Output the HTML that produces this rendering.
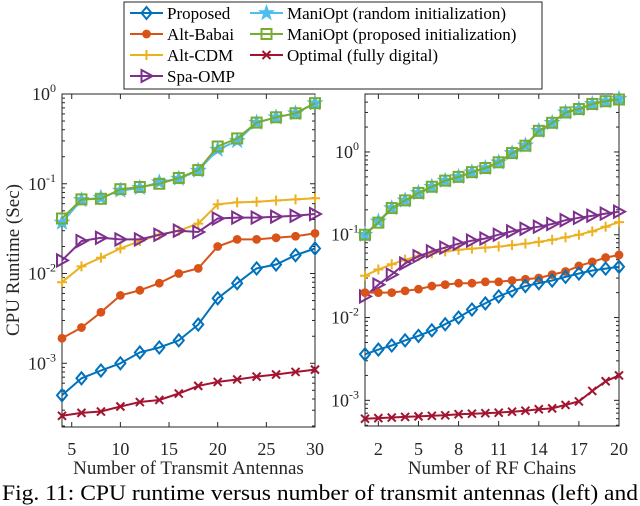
<!DOCTYPE html>
<html><head><meta charset="utf-8"><style>
html,body{margin:0;padding:0;background:#fff;}
svg, svg text{font-family:"Liberation Serif","DejaVu Serif",serif;}
svg{display:block;}
</style></head><body>
<svg id="chart" width="640" height="506" viewBox="0 0 640 506" xmlns="http://www.w3.org/2000/svg" font-family="Liberation Serif, DejaVu Serif, serif"></svg>
<script>
// ---- data ----
const leftX = [4,6,8,10,12,14,16,18,20,22,24,26,28,30];
const rightX = [1,2,3,4,5,6,7,8,9,10,11,12,13,14,15,16,17,18,19,20];
const leftProposed = [0.00044,0.00068,0.00083,0.001,0.00132,0.0015,0.0018,0.0027,0.0053,0.0078,0.0114,0.0126,0.016,0.019];
const leftBabai = [0.0019,0.0025,0.0037,0.0057,0.0065,0.0078,0.010,0.0114,0.020,0.024,0.024,0.025,0.026,0.028];
const leftCDM = [0.0080,0.012,0.015,0.019,0.023,0.027,0.030,0.036,0.059,0.062,0.063,0.065,0.067,0.069];
const leftOMP = [0.014,0.023,0.025,0.024,0.024,0.027,0.030,0.029,0.041,0.042,0.042,0.043,0.044,0.046];
const leftManiRand = [0.037,0.066,0.070,0.084,0.090,0.104,0.114,0.140,0.24,0.30,0.48,0.55,0.61,0.79];
const leftManiProp = [0.041,0.067,0.068,0.087,0.092,0.100,0.116,0.142,0.26,0.32,0.48,0.55,0.61,0.79];
const leftOptimal = [0.00026,0.00028,0.00029,0.00033,0.00037,0.00039,0.00046,0.00056,0.00062,0.00066,0.00071,0.00075,0.0008,0.00085];
const rightProposed = [0.0036,0.0041,0.0046,0.0053,0.006,0.007,0.0083,0.010,0.0125,0.0148,0.018,0.021,0.024,0.026,0.028,0.031,0.034,0.037,0.039,0.041];
const rightBabai = [0.020,0.020,0.020,0.021,0.022,0.024,0.025,0.026,0.026,0.027,0.027,0.028,0.029,0.030,0.033,0.036,0.042,0.047,0.053,0.057];
const rightCDM = [0.032,0.038,0.044,0.050,0.055,0.060,0.063,0.066,0.068,0.070,0.072,0.075,0.078,0.082,0.087,0.093,0.10,0.11,0.125,0.142];
const rightOMP = [0.018,0.025,0.033,0.045,0.055,0.063,0.070,0.078,0.085,0.090,0.10,0.11,0.118,0.125,0.135,0.15,0.16,0.17,0.18,0.19];
const rightManiRand = [0.10,0.145,0.21,0.26,0.32,0.38,0.45,0.50,0.57,0.64,0.75,0.97,1.2,1.8,2.25,3.0,3.3,3.8,4.1,4.4];
const rightManiProp = [0.10,0.14,0.21,0.26,0.32,0.38,0.45,0.50,0.57,0.64,0.75,0.97,1.19,1.8,2.25,3.0,3.3,3.8,4.1,4.3];
const rightOptimal = [0.0006,0.00061,0.00062,0.00063,0.00064,0.00065,0.00066,0.00068,0.00069,0.0007,0.00071,0.00073,0.00075,0.00078,0.0008,0.00088,0.00097,0.0013,0.0017,0.002];
const leftXTicks = [5,10,15,20,25,30];
const rightXTicks = [2,5,8,11,14,17,20];
const leftYTicks = [0,-1,-2,-3];
const rightYTicks = [0,-1,-2,-3];
const legendLabels = ["Proposed","Alt-Babai","Alt-CDM","Spa-OMP","ManiOpt (random initialization)","ManiOpt (proposed initialization)","Optimal (fully digital)"];

const NS="http://www.w3.org/2000/svg";
const FF="Liberation Serif, DejaVu Serif, serif";
const svg=document.getElementById('chart');
function mk(tag,attrs,parent){const e=document.createElementNS(NS,tag);for(const k in attrs)e.setAttribute(k,attrs[k]);if(tag==='text')e.setAttribute('font-family',FF);(parent||svg).appendChild(e);return e;}

const styles={
 proposed:{c:'#0072BD',m:'diamond'},
 babai:{c:'#D95319',m:'dot'},
 cdm:{c:'#EDB120',m:'plus'},
 omp:{c:'#7E2F8E',m:'tri'},
 rand:{c:'#4DBEEE',m:'star'},
 prop:{c:'#77AC30',m:'square'},
 opt:{c:'#A2142F',m:'x'}
};
function marker(g,type,x,y,c){
 let e;
 if(type==='diamond')e=mk('path',{d:`M${x},${y-6}L${x+5},${y}L${x},${y+6}L${x-5},${y}Z`,fill:'none',stroke:c,'stroke-width':2},g);
 else if(type==='dot')e=mk('circle',{cx:x,cy:y,r:3.8,fill:c,stroke:c,'stroke-width':1.2},g);
 else if(type==='plus')e=mk('path',{d:`M${x-5},${y}H${x+5}M${x},${y-5}V${y+5}`,stroke:c,'stroke-width':2,fill:'none'},g);
 else if(type==='tri')e=mk('path',{d:`M${x-5},${y-6}L${x+6},${y}L${x-5},${y+6}Z`,fill:'none',stroke:c,'stroke-width':2},g);
 else if(type==='square')e=mk('rect',{x:x-5,y:y-5,width:10,height:10,fill:'none',stroke:c,'stroke-width':2},g);
 else if(type==='x')e=mk('path',{d:`M${x-4},${y-4}L${x+4},${y+4}M${x-4},${y+4}L${x+4},${y-4}`,stroke:c,'stroke-width':2,fill:'none'},g);
 else if(type==='star'){let p='';for(let i=0;i<10;i++){const r=i%2?3:7.5;const a=-Math.PI/2+i*Math.PI/5;p+=(i?'L':'M')+(x+r*Math.cos(a)).toFixed(1)+','+(y+r*Math.sin(a)).toFixed(1);}e=mk('path',{d:p+'Z',fill:c,stroke:c,'stroke-width':1},g);}
 
 
}

function panel(cfg){
 const {L,R,T,B,xmin,xmax,ymin,ymax,name}=cfg;
 const sx=v=>L+(v-xmin)/(xmax-xmin)*(R-L);
 const sy=v=>B-(Math.log10(v)-ymin)/(ymax-ymin)*(B-T);
 const g=mk('g',{});
 
 
 const ax=mk('rect',{x:L,y:T,width:R-L,height:B-T,fill:'#fff',stroke:'#262626','stroke-width':1},g);
 
 
 cfg.xTicks.forEach(t=>{const x=sx(t);
  mk('line',{x1:x,x2:x,y1:B,y2:B-5,stroke:'#262626'},g);
  mk('line',{x1:x,x2:x,y1:T,y2:T+5,stroke:'#262626'},g);
  const tx=mk('text',{x:x,y:455,'font-size':18,'text-anchor':'middle',fill:'#262626'},g);tx.textContent=t;
  
  
 });
 for(let d=Math.floor(ymin);d<Math.ceil(ymax);d++){for(let k=1;k<10;k++){const lv=d+Math.log10(k);if(lv<ymin||lv>ymax)continue;const y=B-(lv-ymin)/(ymax-ymin)*(B-T);const len=k===1?5:3;
  mk('line',{x1:L,x2:L+len,y1:y,y2:y,stroke:'#262626'},g);mk('line',{x1:R,x2:R-len,y1:y,y2:y,stroke:'#262626'},g);}}
 cfg.yTicks.forEach(p=>{const y=B-(p-ymin)/(ymax-ymin)*(B-T);
  const tx=mk('text',{x:L-6,y:y+6,'font-size':18,'text-anchor':'end',fill:'#262626'},g);
  
  
  tx.textContent='10';const s=mk('tspan',{dy:-8,'font-size':12},tx);s.textContent=String(p);
 });
 cfg.series.forEach(s=>{
  const st=styles[s.k];
  const sg=mk('g',{},g);
  
  
  const pts=s.v.map((v,i)=>sx(s.x[i]).toFixed(1)+','+sy(v).toFixed(1)).join(' ');
  mk('polyline',{points:pts,fill:'none',stroke:st.c,'stroke-width':2},sg);
  s.v.forEach((v,i)=>marker(sg,st.m,sx(s.x[i]),sy(v),st.c));
 });
 const xt=mk('text',{x:(L+R)/2,y:474,'font-size':19,'text-anchor':'middle',fill:'#262626'},g);
 xt.textContent=cfg.xTitle;
 
 
}

panel({name:'left-panel',L:62,R:315,T:94,B:427,xmin:4,xmax:30,ymin:-3.71,ymax:0,xTicks:leftXTicks,yTicks:leftYTicks,xTitle:'Number of Transmit Antennas',
 series:[{k:'rand',name:'series-maniopt-random',x:leftX,v:leftManiRand},{k:'prop',name:'series-maniopt-proposed',x:leftX,v:leftManiProp},{k:'cdm',name:'series-alt-cdm',x:leftX,v:leftCDM},{k:'omp',name:'series-spa-omp',x:leftX,v:leftOMP},{k:'babai',name:'series-alt-babai',x:leftX,v:leftBabai},{k:'proposed',name:'series-proposed',x:leftX,v:leftProposed},{k:'opt',name:'series-optimal',x:leftX,v:leftOptimal}]});
panel({name:'right-panel',L:365,R:619,T:94,B:426,xmin:1,xmax:20,ymin:-3.31,ymax:0.70,xTicks:rightXTicks,yTicks:rightYTicks,xTitle:'Number of RF Chains',
 series:[{k:'rand',name:'series-maniopt-random',x:rightX,v:rightManiRand},{k:'prop',name:'series-maniopt-proposed',x:rightX,v:rightManiProp},{k:'cdm',name:'series-alt-cdm',x:rightX,v:rightCDM},{k:'omp',name:'series-spa-omp',x:rightX,v:rightOMP},{k:'babai',name:'series-alt-babai',x:rightX,v:rightBabai},{k:'proposed',name:'series-proposed',x:rightX,v:rightProposed},{k:'opt',name:'series-optimal',x:rightX,v:rightOptimal}]});

const yt=mk('text',{x:0,y:0,'font-size':19,'text-anchor':'middle',fill:'#262626',transform:'translate(19,260) rotate(-90)'});
yt.textContent='CPU Runtime (Sec)';



const lg=mk('g',{});


mk('rect',{x:124,y:2,width:418,height:87,fill:'#fff',stroke:'#262626','stroke-width':1},lg);
const legKeys=['proposed','babai','cdm','omp','rand','prop','opt'];
const legPos=[[130,13],[130,34],[130,55],[130,76],[250,13],[250,34],[250,55]];
legendLabels.forEach((lab,i)=>{
 const [x,y]=legPos[i];const st=styles[legKeys[i]];
 const eg=mk('g',{},lg);
 
 
 mk('line',{x1:x,x2:x+33,y1:y,y2:y,stroke:st.c,'stroke-width':2},eg);
 marker(eg,st.m,x+16.5,y,st.c);
 const t=mk('text',{x:x+37,y:y+6,'font-size':17,fill:'#000'},eg);t.textContent=lab;
});

const cap=mk('text',{x:2,y:500,'font-size':22,fill:'#000',textLength:636,lengthAdjust:'spacingAndGlyphs'});
cap.textContent='Fig. 11: CPU runtime versus number of transmit antennas (left) and';


</script>
</body></html>
